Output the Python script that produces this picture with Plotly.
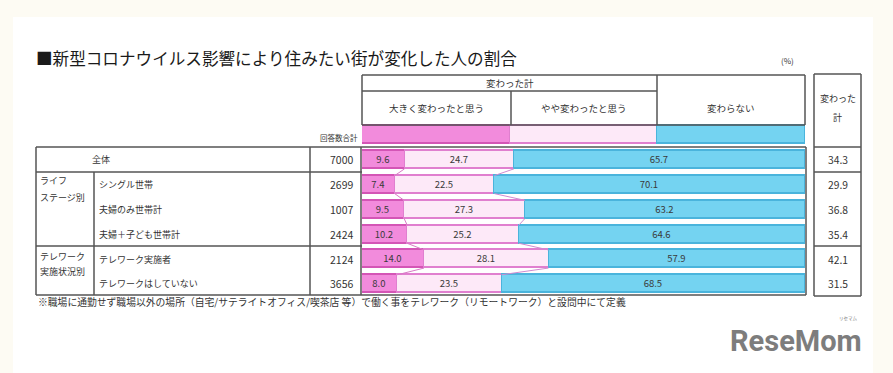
import plotly.graph_objects as go

# ---------------- data ----------------
rows = ["回答数合計", "全体", "シングル世帯", "夫婦のみ世帯計", "夫婦＋子ども世帯計",
        "テレワーク実施者", "テレワークはしていない"]
counts = ["", "7000", "2699", "1007", "2424", "2124", "3656"]
big_change = [33.3, 9.6, 7.4, 9.5, 10.2, 14.0, 8.0]
some_change = [33.3, 24.7, 22.5, 27.3, 25.2, 28.1, 23.5]
no_change = [33.4, 65.7, 70.1, 63.2, 64.6, 57.9, 68.5]
changed_total = ["", "34.3", "29.9", "36.8", "35.4", "42.1", "31.5"]
header_cols = ["大きく変わったと思う", "やや変わったと思う", "変わらない"]
title = "■新型コロナウイルス影響により住みたい街が変化した人の割合"
footnote = "※職場に通勤せず職場以外の場所（自宅/サテライトオフィス/喫茶店 等）で働く事をテレワーク（リモートワーク）と設問中にて定義"

W, H = 893, 373
FONT = "Noto Sans CJK JP"
LINE = "#555555"
BG = "#fdfbf3"


def px(x):
    return x / W


def py(y):
    return 1 - y / H


ypos = list(range(len(rows)))
bw = 0.73


def lbl(vals):
    return [""] + [f"{v:.1f}" for v in vals[1:]]


fig = go.Figure()
series = [
    (big_change, "#f28bdc", "#d455b6"),
    (some_change, "#fde9f8", "#e07fcf"),
    (no_change, "#74d3f1", "#4ab4dc"),
]
for vals, fill, edge in series:
    fig.add_trace(go.Bar(
        y=ypos, x=vals, orientation="h", width=bw,
        marker=dict(color=fill, line=dict(color=edge, width=1.2)),
        text=lbl(vals), textposition="inside", insidetextanchor="middle",
        textangle=0, textfont=dict(family=FONT, size=9.5, color="#3a3a3a"),
        hoverinfo="skip", showlegend=False, cliponaxis=False,
    ))

# series connector lines between consecutive data rows
c1 = [a for a in big_change]
c2 = [a + b for a, b in zip(big_change, some_change)]
for cum, col in [(c1, "#d979c6"), (c2, "#d08ad0")]:
    xs, ys = [], []
    for i in range(1, len(rows) - 1):
        xs += [cum[i], cum[i + 1], None]
        ys += [i + bw / 2, i + 1 - bw / 2, None]
    fig.add_trace(go.Scatter(x=xs, y=ys, mode="lines",
                             line=dict(color=col, width=1),
                             hoverinfo="skip", showlegend=False))

top_px, step = 135, 24.8
y0_px = top_px - step / 2
y1_px = top_px + step * (len(rows) - 1) + step / 2

fig.update_layout(
    width=W, height=H, margin=dict(l=0, r=0, t=0, b=0),
    paper_bgcolor=BG, plot_bgcolor="rgba(0,0,0,0)",
    barmode="stack", bargap=0,
    xaxis=dict(domain=[px(362), px(805)], range=[0, 100], visible=False, fixedrange=True),
    yaxis=dict(domain=[py(y1_px), py(y0_px)], range=[len(rows) - 0.5, -0.5],
               visible=False, fixedrange=True),
    uniformtext=dict(minsize=9, mode="show"),
    font=dict(family=FONT, color="#333"),
)

shapes = []
# white inner page
shapes.append(dict(type="rect", xref="paper", yref="paper", x0=px(13), x1=px(873),
                   y0=py(373), y1=py(17), fillcolor="white", line=dict(width=0), layer="below"))


def hline(y, x0, x1, w=1.5):
    shapes.append(dict(type="line", xref="paper", yref="paper", x0=px(x0), x1=px(x1),
                       y0=py(y), y1=py(y), line=dict(color=LINE, width=w)))


def vline(x, y0, y1, w=1.5):
    shapes.append(dict(type="line", xref="paper", yref="paper", x0=px(x), x1=px(x),
                       y0=py(y0), y1=py(y1), line=dict(color=LINE, width=w)))


# header table
hline(75, 362, 805)
hline(125, 362, 805)
hline(91, 362, 657)
vline(362, 75, 125)
vline(805, 75, 125)
vline(511, 91, 125)
vline(657, 75, 125)
# left table + bar box
hline(147, 36, 806)
hline(295, 36, 806)
vline(36, 147, 295)
vline(310, 147, 295)
vline(94, 172, 295)
hline(172, 36, 362)
hline(246, 36, 362)
vline(361, 147, 295)
vline(806, 147, 295)
# right box
vline(814, 74, 296)
vline(861, 74, 296)
hline(74, 814, 861)
hline(296, 814, 861)
hline(147, 814, 861)
hline(172, 814, 861)
hline(246, 814, 861)
fig.update_layout(shapes=shapes)

ann = []


def txt(x, y, s, size=9, anchor="center", color="#333", family=FONT):
    ann.append(dict(x=px(x), y=py(y), xref="paper", yref="paper",
                    text=s, showarrow=False, xanchor=anchor, yanchor="middle",
                    font=dict(family=family, size=size, color=color)))


def rowtxt(x, i, s, size=9, anchor="center"):
    ann.append(dict(x=px(x), y=i, xref="paper", yref="y", text=s, showarrow=False,
                    xanchor=anchor, yanchor="middle",
                    font=dict(family=FONT, size=size, color="#333")))


txt(34, 58, title, size=16.6, anchor="left", color="#1a1a1a")
txt(787, 60, "(%)", size=8)
txt(510, 83, "変わった計", size=9.5)
for cx, s in zip([436, 584, 731], header_cols):
    txt(cx, 108, s, size=9.5)
txt(360, 137, rows[0], size=7.5, anchor="right")

# row labels (placed on the data y axis)
rowtxt(101, 1, rows[1], size=9)
for i in range(2, len(rows)):
    rowtxt(97, i, rows[i], size=9, anchor="left")
for i in range(1, len(rows)):
    rowtxt(355, i, counts[i], size=10.5, anchor="right")
    rowtxt(837.5, i, changed_total[i], size=10.3)

txt(38, 180, "ライフ", size=9, anchor="left")
txt(38, 197, "ステージ別", size=9, anchor="left")
txt(38, 256, "テレワーク", size=9, anchor="left")
txt(38, 271, "実施状況別", size=9, anchor="left")
txt(837.5, 99, "変わった", size=9)
txt(837.5, 117, "計", size=9)
txt(36, 302, footnote, size=9.8, anchor="left")

# logo
txt(796, 341, "<b>ReseMom</b>", size=29, color="#7d7d7d",
    family="Roboto, DejaVu Sans Condensed, sans-serif")
txt(848, 318, "リセマム", size=4.5, color="#7d7d7d")

fig.update_layout(annotations=ann)

fig.write_html(
    "out.html",
    config={"displayModeBar": False},
    post_script="document.body.style.margin='0';document.body.style.background='%s';" % BG,
)
